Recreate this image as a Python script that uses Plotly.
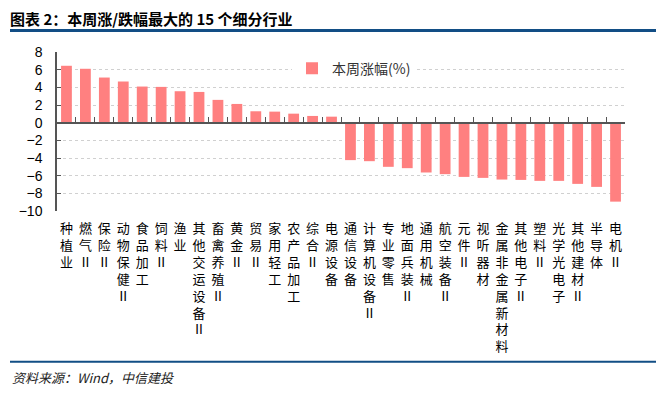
import plotly.graph_objects as go

categories = ["种植业", "燃气Ⅱ", "保险Ⅱ", "动物保健Ⅱ", "食品加工", "饲料Ⅱ", "渔业", "其他交运设备Ⅱ",
              "畜禽养殖Ⅱ", "黄金Ⅱ", "贸易Ⅱ", "家用轻工", "农产品加工", "综合Ⅱ", "电源设备",
              "通信设备", "计算机设备Ⅱ", "专业零售", "地面兵装Ⅱ", "通用机械", "航空装备Ⅱ", "元件Ⅱ",
              "视听器材", "金属非金属新材料", "其他电子Ⅱ", "塑料Ⅱ", "光学光电子", "其他建材Ⅱ", "半导体", "电机Ⅱ"]
weekly_change = [6.44, 6.10, 5.11, 4.66, 4.09, 4.05, 3.56, 3.48, 2.58, 2.12, 1.29, 1.25, 1.02, 0.76, 0.68,
                 -4.24, -4.36, -5.00, -5.15, -5.64, -5.83, -6.14, -6.25, -6.44, -6.48, -6.59, -6.59, -6.93, -7.27, -8.94]
y_ticks = [8, 6, 4, 2, 0, -2, -4, -6, -8, -10]
series_name = "本周涨幅(%)"
title_text = "图表 2：本周涨/跌幅最大的 15 个细分行业"
source_text = "资料来源：Wind，中信建投"

vertical_labels = ["<br>".join(list(c)) for c in categories]
cjk = "Noto Sans CJK SC"

# page body has an 8px margin; work in figure coordinates offset by it
OFF = 8
W, H = 666 - 2 * OFF, 394 - 2 * OFF
PL, PT, PW, PH = 57 - OFF, 52.3 - OFF, 568, 158.4

fig = go.Figure()
fig.add_trace(go.Bar(x=categories, y=weekly_change, name=series_name,
                     marker=dict(color="#FF8080", line=dict(width=0))))
# invisible helper on overlay axis used to draw the zero axis with boundary ticks
fig.add_trace(go.Scatter(x=categories, y=[0] * len(categories), xaxis="x2", mode="markers",
                         marker=dict(opacity=0), showlegend=False, hoverinfo="skip"))

ymin, ymax = -10, 8
fig.update_layout(
    width=W, height=H,
    margin=dict(l=PL, r=W - PL - PW, t=PT, b=H - PT - PH, autoexpand=False),
    paper_bgcolor="white", plot_bgcolor="white",
    bargap=0.43,
    showlegend=True,
    legend=dict(x=(292 - 57) / PW, y=(210.7 - 69) / PH, xanchor="left", yanchor="middle",
                bgcolor="white", font=dict(family=cjk, size=14, color="#333333"), itemwidth=30,
                borderwidth=0, tracegroupgap=0),
    xaxis=dict(type="category", categoryorder="array", categoryarray=categories,
               range=[-0.5, len(categories) - 0.5],
               tickmode="array", tickvals=categories, ticktext=vertical_labels,
               tickangle=0, showline=False, ticks="", showgrid=False, ticklabelstandoff=8,
               tickfont=dict(family=cjk, size=13, color="#000000")),
    xaxis2=dict(type="category", categoryorder="array", categoryarray=categories,
                range=[-0.5, len(categories) - 0.5], overlaying="x", anchor="free",
                position=(0 - ymin) / (ymax - ymin), side="bottom",
                showline=True, linecolor="#555555", linewidth=1.5,
                ticks="inside", tickson="boundaries", ticklen=5, tickcolor="#555555",
                showticklabels=False, showgrid=False),
    yaxis=dict(range=[ymin, ymax], tickvals=y_ticks, showline=True, linecolor="#555555",
               linewidth=1.5, ticks="inside", ticklen=4, tickcolor="#555555",
               showgrid=True, gridcolor="#D0D0D0", griddash="dot", gridwidth=1,
               zeroline=False, ticklabelstandoff=10,
               tickfont=dict(family="Liberation Sans", size=14, color="#000000")),
)

fig.update_layout(
    title=dict(text="<b>" + title_text + "</b>", x=(10 - OFF) / W, xref="container", xanchor="left",
               y=1 - (19.5 - OFF) / H, yref="container", yanchor="middle",
               font=dict(family=cjk, size=15, color="#000000")),
)

def px_to_paper_y(py):
    return (210.7 - py) / PH

def px_to_paper_x(px):
    return (px - 57) / PW

for py, w in [(31, 3), (361, 2)]:
    fig.add_shape(type="line", xref="paper", yref="paper",
                  x0=px_to_paper_x(10), x1=px_to_paper_x(656),
                  y0=px_to_paper_y(py), y1=px_to_paper_y(py),
                  line=dict(color="#124E85", width=w))

fig.add_annotation(text=source_text, xref="paper", yref="paper",
                   x=px_to_paper_x(10), y=px_to_paper_y(377), xanchor="left", yanchor="middle",
                   showarrow=False, font=dict(family=cjk, size=13, color="#222222", style="italic"))

fig.write_html("out.html")
